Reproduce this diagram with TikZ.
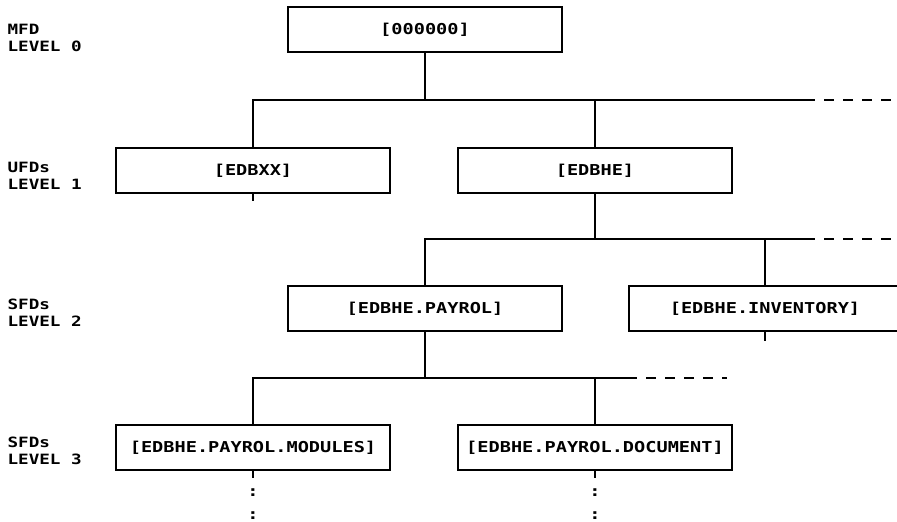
\documentclass[tikz,border=0pt]{standalone}
\usepackage{fontspec}
\newfontfamily\pf[FakeStretch=1.24]{DejaVu Sans Mono}
\begin{document}
\begin{tikzpicture}[x=1pt,y=-1pt,
  line width=1.1pt,
  dirbox/.style={draw, line width=1.1pt, minimum width=274pt, minimum height=45pt, inner sep=0pt,
    font=\pf\bfseries\fontsize{15}{17}\selectfont},
  lvl/.style={anchor=west, align=left, inner sep=0pt,
    font=\pf\bfseries\fontsize{14.2}{17}\selectfont},
  cont/.style={dash pattern=on 10pt off 9pt},
  dotpair/.style={font=\pf\bfseries\fontsize{15}{17}\selectfont, inner sep=0pt}
]
\clip (0,0) rectangle (897,522);
\fill[white] (0,0) rectangle (897,522);

% levels labels
\node[lvl] (l0) at (7,38) {MFD\\LEVEL 0};
\node[lvl] (l1) at (7,176) {UFDs\\LEVEL 1};
\node[lvl] (l2) at (7,313) {SFDs\\LEVEL 2};
\node[lvl] (l3) at (7,451) {SFDs\\LEVEL 3};

% boxes
\node[dirbox] (b0)  at (425,29.5)  {[000000]};
\node[dirbox] (b1l) at (253,170.5) {[EDBXX]};
\node[dirbox] (b1r) at (595,170.5) {[EDBHE]};
\node[dirbox] (b2l) at (425,308.5) {[EDBHE.PAYROL]};
\node[dirbox, minimum width=272pt] (b2r) at (765,308.5) {[EDBHE.INVENTORY]};
\node[dirbox] (b3l) at (253,447.5) {[EDBHE.PAYROL.MODULES]};
\node[dirbox] (b3r) at (595,447.5) {[EDBHE.PAYROL.DOCUMENT]};

% level 0 -> 1
\coordinate (j0) at (425,100);
\coordinate (e0) at (805,100);
\coordinate (d0) at (897,100);
\draw (b0.south) -- (j0);
\draw (b1l.north) -- (b1l.north |- j0) -- (e0);
\draw (b1r.north) -- (b1r.north |- j0);
\draw[cont] (e0) -- (d0);
\coordinate (t1) at (253,201);
\draw (b1l.south) -- (t1);

% level 1 -> 2
\coordinate (j1) at (595,239);
\coordinate (e1) at (805,239);
\coordinate (d1) at (897,239);
\draw (b1r.south) -- (j1);
\draw (b2l.north) -- (b2l.north |- j1) -- (e1);
\draw (b2r.north) -- (b2r.north |- j1);
\draw[cont] (e1) -- (d1);
\coordinate (t2) at (765,341);
\draw (b2r.south) -- (t2);

% level 2 -> 3
\coordinate (j2) at (425,378);
\coordinate (e2) at (627,378);
\coordinate (d2) at (727,378);
\draw (b2l.south) -- (j2);
\draw (b3l.north) -- (b3l.north |- j2) -- (e2);
\draw (b3r.north) -- (b3r.north |- j2);
\draw[cont] (e2) -- (d2);

% continuation below level 3
\coordinate (t3l) at (253,478);
\coordinate (t3r) at (595,478);
\draw (b3l.south) -- (t3l);
\draw (b3r.south) -- (t3r);
\node[dotpair] (c1l) at (253,493) {:};
\node[dotpair] (c2l) at (253,516) {:};
\node[dotpair] (c1r) at (595,493) {:};
\node[dotpair] (c2r) at (595,516) {:};
\end{tikzpicture}
\end{document}
